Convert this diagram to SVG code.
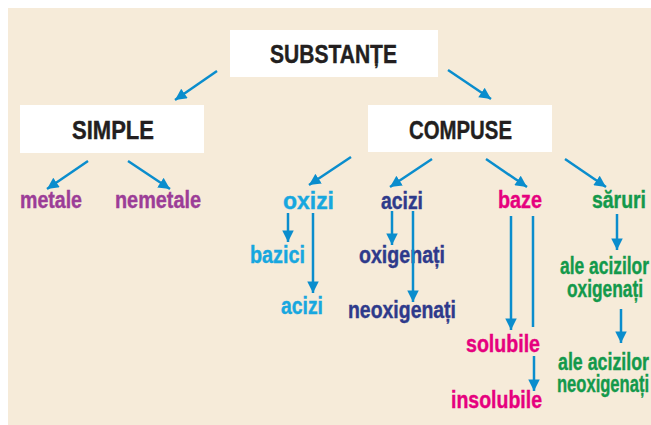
<svg xmlns="http://www.w3.org/2000/svg" width="651" height="425" viewBox="0 0 651 425">
<defs>
<marker id="ah" viewBox="0 0 10 10" refX="10" refY="5" markerWidth="4.8" markerHeight="4.6" orient="auto" markerUnits="strokeWidth">
<path d="M0,0 L10,5 L0,10 Z" fill="#0a8dcd"/>
</marker>
<style>
.box{fill:#ffffff}
.h{font-family:"Liberation Sans",Arial,sans-serif;font-weight:bold;font-size:25px;fill:#231f20;stroke:#231f20;stroke-width:0.4}
.t{font-family:"Liberation Sans",Arial,sans-serif;font-weight:bold;font-size:23px;stroke-width:0.4}
.pu{fill:#9c3d97;stroke:#9c3d97}.cy{fill:#17a7df;stroke:#17a7df}.db{fill:#2e3a8b;stroke:#2e3a8b}.mg{fill:#e6007e;stroke:#e6007e}.gr{fill:#13994b;stroke:#13994b}
.c line{stroke:#0a8dcd;stroke-width:2.5;fill:none}
.c line.a{marker-end:url(#ah)}
</style>
</defs>
<rect x="0" y="0" width="651" height="425" fill="#ffffff"/>
<rect x="8" y="8" width="643" height="417" fill="#f6ebd9"/>
<g id="n-substante"><rect class="box" x="230" y="30" width="208" height="47"/><text class="h" x="270" y="63" textLength="127" lengthAdjust="spacingAndGlyphs">SUBSTANȚE</text></g>
<g id="n-simple"><rect class="box" x="20" y="105" width="184" height="48"/><text class="h" x="72" y="139" textLength="82" lengthAdjust="spacingAndGlyphs">SIMPLE</text></g>
<g id="n-compuse"><rect class="box" x="368" y="105" width="184" height="47"/><text class="h" x="409" y="139" textLength="103" lengthAdjust="spacingAndGlyphs">COMPUSE</text></g>
<g id="n-metale"><text class="t pu" x="20" y="208" textLength="62" lengthAdjust="spacingAndGlyphs">metale</text></g>
<g id="n-nemetale"><text class="t pu" x="115" y="208" textLength="86" lengthAdjust="spacingAndGlyphs">nemetale</text></g>
<g id="n-oxizi"><text class="t cy" x="283" y="209" textLength="51" lengthAdjust="spacingAndGlyphs">oxizi</text></g>
<g id="n-bazici"><text class="t cy" x="250" y="263" textLength="55" lengthAdjust="spacingAndGlyphs">bazici</text></g>
<g id="n-acizi-ox"><text class="t cy" x="281" y="314" textLength="42" lengthAdjust="spacingAndGlyphs">acizi</text></g>
<g id="n-acizi"><text class="t db" x="381" y="209" textLength="42" lengthAdjust="spacingAndGlyphs">acizi</text></g>
<g id="n-oxigenati"><text class="t db" x="359" y="263" textLength="86" lengthAdjust="spacingAndGlyphs">oxigenați</text></g>
<g id="n-neoxigenati"><text class="t db" x="348" y="318" textLength="108" lengthAdjust="spacingAndGlyphs">neoxigenați</text></g>
<g id="n-baze"><text class="t mg" x="498" y="208" textLength="44" lengthAdjust="spacingAndGlyphs">baze</text></g>
<g id="n-solubile"><text class="t mg" x="466" y="352" textLength="74" lengthAdjust="spacingAndGlyphs">solubile</text></g>
<g id="n-insolubile"><text class="t mg" x="451" y="408" textLength="91" lengthAdjust="spacingAndGlyphs">insolubile</text></g>
<g id="n-saruri"><text class="t gr" x="592" y="208" textLength="54" lengthAdjust="spacingAndGlyphs">săruri</text></g>
<g id="n-sar-ox"><text class="t gr" x="560" y="274" textLength="89" lengthAdjust="spacingAndGlyphs">ale acizilor</text><text class="t gr" x="567" y="297" textLength="76" lengthAdjust="spacingAndGlyphs">oxigenați</text></g>
<g id="n-sar-neox"><text class="t gr" x="558" y="370" textLength="91" lengthAdjust="spacingAndGlyphs">ale acizilor</text><text class="t gr" x="557" y="392" textLength="92" lengthAdjust="spacingAndGlyphs">neoxigenați</text></g>
<g id="connectors" class="c">
<line class="a" x1="217" y1="71" x2="175" y2="100"/>
<line class="a" x1="448" y1="70" x2="491" y2="99"/>
<line class="a" x1="88" y1="161" x2="47" y2="189"/>
<line class="a" x1="128" y1="161" x2="170" y2="189"/>
<line class="a" x1="351" y1="157" x2="309" y2="185"/>
<line class="a" x1="432" y1="159" x2="390" y2="187"/>
<line class="a" x1="486" y1="159" x2="527" y2="187"/>
<line class="a" x1="565" y1="159" x2="606" y2="187"/>
<line class="a" x1="288" y1="213" x2="288" y2="242"/>
<line class="a" x1="313" y1="213" x2="313" y2="293"/>
<line class="a" x1="392" y1="211" x2="392" y2="245"/>
<line class="a" x1="413" y1="211" x2="413" y2="302"/>
<line class="a" x1="511" y1="216" x2="511" y2="330"/>
<line x1="533" y1="216" x2="533" y2="327"/>
<line class="a" x1="534" y1="356" x2="534" y2="391"/>
<line class="a" x1="617" y1="214" x2="617" y2="250"/>
<line class="a" x1="621" y1="309" x2="621" y2="343"/>
</g>
</svg>
